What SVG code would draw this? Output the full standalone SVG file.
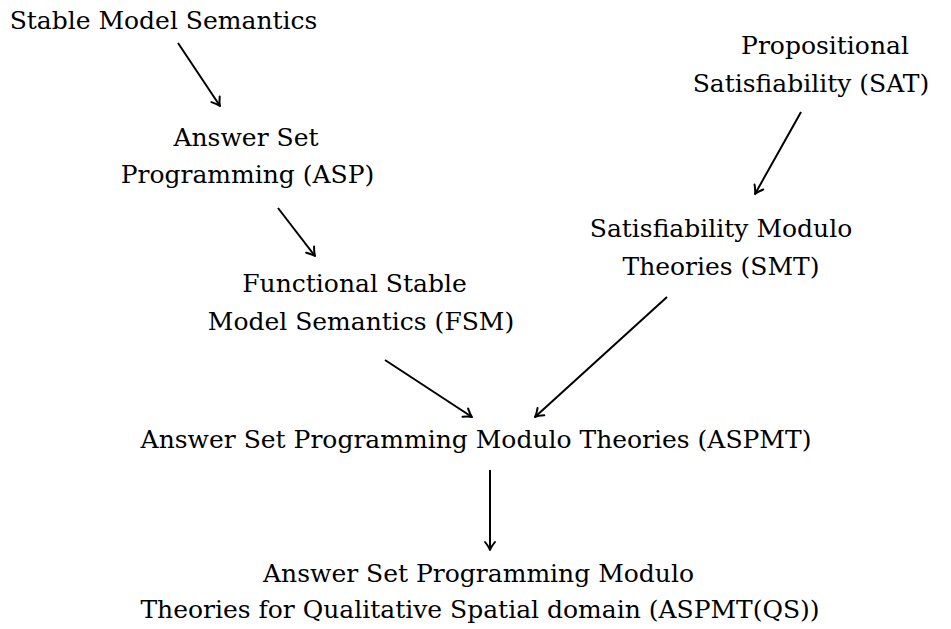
<svg xmlns="http://www.w3.org/2000/svg" width="951" height="629" viewBox="0 0 951 629">
<defs>
<marker id="arr" markerUnits="userSpaceOnUse" markerWidth="20" markerHeight="20" refX="0" refY="0" viewBox="-10 -10 20 20" orient="auto">
<path d="M-8,-5 Q-3,-1 0,0 Q-3,1 -8,5" fill="none" stroke="#000" stroke-width="2" stroke-linecap="round" stroke-linejoin="round"/>
</marker>
<style>
text{font-family:"DejaVu Serif","Liberation Serif",serif;font-size:25px;fill:#000;text-anchor:middle}
.c line{stroke:#000;stroke-width:2;marker-end:url(#arr)}
</style>
</defs>
<rect width="951" height="629" fill="#fff"/>
<g id="sms"><text x="163.5" y="29">Stable Model Semantics</text></g>
<g id="sat"><text x="825" y="54">Propositional</text><text x="811" y="92">Satisfiability (SAT)</text></g>
<g id="asp"><text x="246" y="146">Answer Set</text><text x="247.5" y="183">Programming (ASP)</text></g>
<g id="smt"><text x="721" y="237">Satisfiability Modulo</text><text x="721" y="275">Theories (SMT)</text></g>
<g id="fsm"><text x="354.5" y="292">Functional Stable</text><text x="361" y="330">Model Semantics (FSM)</text></g>
<g id="aspmt"><text x="476" y="448">Answer Set Programming Modulo Theories (ASPMT)</text></g>
<g id="aspmtqs"><text x="478.5" y="582">Answer Set Programming Modulo</text><text x="480" y="618">Theories for Qualitative Spatial domain (ASPMT(QS))</text></g>
<g class="c" id="connectors">
<line x1="178" y1="43" x2="220" y2="106"/>
<line x1="278" y1="208" x2="315" y2="256"/>
<line x1="801" y1="112" x2="755" y2="194"/>
<line x1="385" y1="360" x2="472" y2="417"/>
<line x1="667" y1="297" x2="535" y2="417"/>
<line x1="490" y1="470" x2="490" y2="550"/>
</g>
</svg>
